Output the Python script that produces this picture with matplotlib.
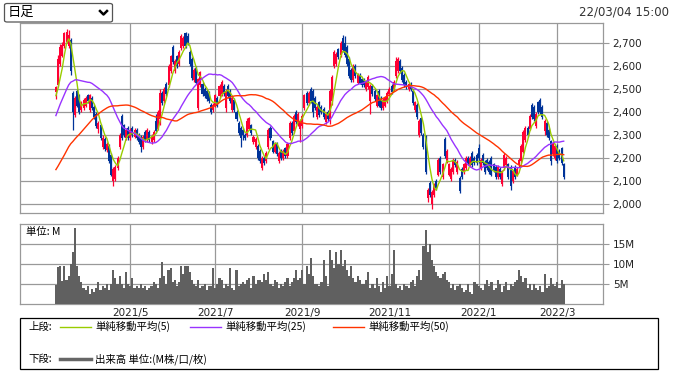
import numpy as np
import pandas as pd
import matplotlib
matplotlib.use('Agg')
import matplotlib.pyplot as plt
from matplotlib.patches import Rectangle, FancyBboxPatch
from matplotlib.lines import Line2D

plt.rcParams['font.family'] = ['DejaVu Sans', 'Noto Sans CJK JP']
JP = ['Noto Sans CJK JP', 'DejaVu Sans']

# trading days (TSE holidays removed)
holidays = ['2021-04-29', '2021-05-03', '2021-05-04', '2021-05-05', '2021-07-22',
            '2021-07-23', '2021-08-09', '2021-09-20', '2021-09-23', '2021-11-03',
            '2021-11-23', '2021-12-31', '2022-01-03', '2022-01-10', '2022-02-11',
            '2022-02-23']
tick_months = [(2021, 5), (2021, 7), (2021, 9), (2021, 11), (2022, 1), (2022, 3)]

# closes before the visible window (only used to seed the 25/50 day averages)
prior_close = [1880, 1870, 1890, 1900, 1880, 1860, 1890, 1910, 1900, 1920,
               1930, 1910, 1900, 1920, 1940, 1930, 1910, 1920, 1930, 1950,
               1940, 1930, 1950, 1960, 1950,
               2000, 2080, 2150, 2190, 2230, 2250, 2270, 2290, 2320, 2430,
               2450, 2480, 2500, 2520, 2510, 2490, 2530, 2550, 2520, 2500,
               2470, 2460, 2470, 2450]

open_ = [2490, 2520, 2610, 2645, 2690, 2705, 2690, 2710, 2480, 2390,
         2490, 2470, 2410, 2420, 2430, 2470, 2410, 2460, 2420, 2390,
         2330, 2340, 2250, 2280, 2235, 2250, 2210, 2100, 2110, 2160,
         2250, 2380, 2340, 2290, 2330, 2290, 2330, 2295, 2320, 2300,
         2290, 2250, 2310, 2280, 2310, 2270, 2280, 2360, 2330, 2370,
         2480, 2450, 2520, 2520, 2580, 2680, 2580, 2640, 2610, 2680,
         2690, 2740, 2730, 2660, 2630, 2540, 2590, 2420, 2520, 2520,
         2500, 2490, 2480, 2430, 2410, 2430, 2460, 2470, 2480, 2510,
         2420, 2510, 2490, 2410, 2450, 2400, 2350, 2330, 2320, 2300,
         2300, 2330, 2340, 2270, 2250, 2250, 2230, 2160, 2200, 2190,
         2250, 2330, 2270, 2230, 2260, 2190, 2230, 2200, 2240, 2210,
         2290, 2350, 2320, 2400, 2350, 2330, 2340, 2420, 2480, 2440,
         2500, 2490, 2460, 2380, 2440, 2420, 2410, 2360, 2400, 2370,
         2450, 2600, 2610, 2670, 2650, 2720, 2700, 2680, 2630, 2580,
         2540, 2600, 2530, 2560, 2540, 2540, 2500, 2510, 2450, 2510,
         2490, 2430, 2490, 2460, 2420, 2430, 2450, 2480, 2510, 2500,
         2560, 2580, 2620, 2590, 2560, 2530, 2500, 2520, 2490, 2410,
         2430, 2300, 2370, 2300, 2290, 2030, 2090, 2000, 2040, 2100,
         2130, 2200, 2120, 2280, 2190, 2130, 2110, 2140, 2190, 2140,
         2110, 2150, 2140, 2160, 2200, 2170, 2220, 2200, 2210, 2240,
         2160, 2210, 2180, 2190, 2180, 2200, 2170, 2160, 2120, 2150,
         2090, 2160, 2170, 2170, 2160, 2100, 2160, 2130, 2170, 2190,
         2230, 2280, 2330, 2330, 2430, 2420, 2340, 2440, 2450, 2420,
         2320, 2350, 2320, 2270, 2220, 2200, 2250, 2230, 2240, 2170]

high = [2515, 2650, 2695, 2705, 2750, 2760, 2755, 2720, 2490, 2470,
        2500, 2480, 2450, 2460, 2470, 2480, 2480, 2470, 2430, 2400,
        2360, 2350, 2300, 2290, 2270, 2260, 2220, 2160, 2170, 2210,
        2310, 2390, 2350, 2330, 2340, 2330, 2340, 2330, 2330, 2310,
        2300, 2300, 2320, 2330, 2320, 2305, 2320, 2390, 2410, 2500,
        2490, 2510, 2530, 2610, 2650, 2690, 2630, 2650, 2670, 2740,
        2730, 2750, 2745, 2670, 2640, 2590, 2600, 2550, 2580, 2530,
        2510, 2500, 2490, 2440, 2440, 2480, 2470, 2520, 2540, 2520,
        2500, 2520, 2500, 2470, 2460, 2410, 2360, 2340, 2330, 2310,
        2375, 2380, 2350, 2300, 2290, 2260, 2240, 2210, 2210, 2230,
        2330, 2340, 2280, 2270, 2270, 2230, 2240, 2240, 2250, 2270,
        2360, 2360, 2390, 2410, 2400, 2370, 2390, 2480, 2490, 2490,
        2510, 2500, 2470, 2430, 2450, 2430, 2420, 2400, 2410, 2500,
        2560, 2670, 2660, 2680, 2710, 2735, 2730, 2690, 2640, 2590,
        2610, 2610, 2570, 2570, 2550, 2550, 2540, 2560, 2520, 2520,
        2500, 2480, 2500, 2470, 2460, 2470, 2490, 2510, 2520, 2540,
        2640, 2640, 2630, 2600, 2570, 2540, 2530, 2530, 2500, 2450,
        2440, 2370, 2380, 2310, 2300, 2070, 2100, 2060, 2090, 2110,
        2200, 2210, 2180, 2290, 2240, 2180, 2160, 2200, 2200, 2190,
        2120, 2160, 2180, 2210, 2210, 2210, 2230, 2210, 2220, 2260,
        2200, 2220, 2190, 2200, 2190, 2210, 2180, 2170, 2170, 2160,
        2150, 2220, 2210, 2180, 2170, 2150, 2170, 2160, 2200, 2260,
        2320, 2340, 2340, 2390, 2440, 2430, 2400, 2450, 2460, 2430,
        2370, 2360, 2330, 2280, 2270, 2260, 2260, 2240, 2250, 2180]

low = [2455, 2510, 2600, 2640, 2680, 2700, 2680, 2560, 2320, 2380,
       2420, 2390, 2400, 2410, 2420, 2440, 2400, 2410, 2370, 2330,
       2310, 2280, 2240, 2230, 2225, 2180, 2120, 2080, 2100, 2150,
       2240, 2280, 2290, 2280, 2280, 2280, 2290, 2285, 2280, 2260,
       2225, 2240, 2270, 2270, 2270, 2260, 2270, 2310, 2320, 2345,
       2430, 2440, 2470, 2510, 2570, 2610, 2570, 2590, 2600, 2670,
       2680, 2680, 2690, 2600, 2540, 2530, 2520, 2410, 2510, 2470,
       2460, 2450, 2440, 2390, 2400, 2420, 2420, 2460, 2470, 2470,
       2400, 2460, 2440, 2400, 2400, 2360, 2300, 2250, 2280, 2280,
       2290, 2320, 2300, 2260, 2240, 2190, 2180, 2150, 2170, 2180,
       2240, 2280, 2220, 2220, 2210, 2180, 2190, 2190, 2200, 2200,
       2280, 2300, 2310, 2350, 2340, 2270, 2330, 2410, 2430, 2430,
       2440, 2380, 2410, 2370, 2380, 2390, 2370, 2350, 2360, 2350,
       2430, 2590, 2600, 2630, 2640, 2660, 2640, 2600, 2550, 2530,
       2530, 2550, 2520, 2520, 2510, 2510, 2490, 2500, 2390, 2470,
       2450, 2420, 2420, 2410, 2410, 2420, 2440, 2470, 2480, 2490,
       2550, 2570, 2570, 2530, 2510, 2500, 2490, 2490, 2430, 2400,
       2370, 2290, 2300, 2240, 2130, 2010, 2030, 1980, 2030, 2060,
       2120, 2130, 2110, 2200, 2180, 2120, 2100, 2130, 2160, 2130,
       2050, 2110, 2130, 2150, 2170, 2160, 2160, 2170, 2170, 2180,
       2150, 2170, 2130, 2150, 2130, 2120, 2140, 2110, 2110, 2110,
       2080, 2150, 2160, 2110, 2060, 2090, 2110, 2120, 2160, 2180,
       2220, 2270, 2290, 2320, 2370, 2360, 2330, 2390, 2390, 2370,
       2300, 2290, 2280, 2170, 2210, 2190, 2180, 2190, 2170, 2110]

close = [2505, 2630, 2680, 2690, 2740, 2745, 2735, 2580, 2400, 2460,
         2430, 2400, 2440, 2450, 2460, 2450, 2470, 2420, 2380, 2340,
         2350, 2290, 2285, 2240, 2260, 2190, 2130, 2150, 2160, 2200,
         2300, 2290, 2300, 2320, 2290, 2320, 2300, 2320, 2290, 2270,
         2250, 2290, 2280, 2320, 2280, 2295, 2310, 2320, 2400, 2480,
         2440, 2500, 2480, 2600, 2640, 2620, 2620, 2600, 2660, 2730,
         2720, 2690, 2700, 2610, 2550, 2580, 2530, 2540, 2570, 2480,
         2470, 2460, 2450, 2400, 2430, 2470, 2430, 2510, 2530, 2480,
         2490, 2470, 2450, 2460, 2410, 2370, 2310, 2290, 2300, 2290,
         2360, 2370, 2310, 2290, 2280, 2200, 2190, 2200, 2180, 2220,
         2320, 2290, 2230, 2260, 2220, 2220, 2200, 2230, 2210, 2260,
         2350, 2310, 2380, 2360, 2390, 2360, 2380, 2470, 2440, 2480,
         2450, 2400, 2420, 2420, 2390, 2400, 2380, 2390, 2370, 2490,
         2550, 2660, 2650, 2640, 2700, 2670, 2650, 2610, 2560, 2540,
         2600, 2560, 2560, 2530, 2520, 2520, 2530, 2550, 2510, 2480,
         2460, 2470, 2430, 2420, 2450, 2460, 2480, 2500, 2490, 2530,
         2620, 2630, 2580, 2540, 2520, 2510, 2520, 2500, 2440, 2440,
         2380, 2360, 2310, 2250, 2140, 2060, 2040, 2050, 2080, 2070,
         2190, 2140, 2170, 2210, 2230, 2170, 2150, 2190, 2170, 2180,
         2060, 2120, 2170, 2200, 2180, 2200, 2170, 2180, 2180, 2200,
         2190, 2180, 2140, 2160, 2140, 2130, 2150, 2120, 2160, 2120,
         2140, 2210, 2200, 2120, 2080, 2140, 2120, 2150, 2190, 2250,
         2310, 2330, 2300, 2380, 2380, 2370, 2390, 2400, 2400, 2380,
         2360, 2300, 2290, 2190, 2260, 2250, 2190, 2200, 2180, 2120]

# volume in millions
volume = [4.7, 9.3, 9.5, 5.8, 9.5, 6.0, 7.0, 10.0, 13.0, 19.0,
          9.5, 7.0, 5.5, 4.0, 3.5, 4.5, 2.5, 3.8, 3.0, 4.0,
          5.5, 3.5, 4.5, 4.0, 5.0, 3.5, 5.0, 8.5, 6.5, 5.0,
          7.0, 5.0, 4.0, 8.0, 5.0, 4.5, 6.5, 4.0, 4.5, 4.0,
          5.0, 4.0, 4.5, 3.5, 4.0, 4.5, 5.5, 5.0, 4.0, 6.5,
          10.5, 7.0, 5.0, 8.5, 9.0, 5.5, 6.0, 4.5, 5.5, 9.5,
          7.5, 9.5, 9.5, 8.0, 6.0, 5.0, 4.5, 6.0, 4.0, 4.5,
          5.0, 3.5, 4.5, 4.5, 9.0, 4.0, 5.0, 6.5, 6.0, 4.0,
          5.0, 4.5, 9.0, 4.0, 3.5, 8.5, 4.5, 5.0, 5.5, 5.0,
          6.0, 6.5, 4.0, 7.0, 5.0, 6.0, 6.0, 5.5, 7.5, 6.0,
          8.0, 5.0, 4.5, 6.0, 5.5, 4.0, 5.0, 4.5, 5.5, 6.5,
          4.5, 5.5, 6.5, 8.5, 6.0, 6.5, 8.5, 5.0, 9.5, 7.5,
          11.5, 7.0, 5.0, 5.0, 4.5, 5.5, 11.0, 7.0, 4.5, 13.5,
          11.0, 9.0, 13.0, 10.0, 13.5, 9.5, 11.0, 8.5, 7.0, 9.5,
          6.5, 5.5, 7.0, 6.0, 5.0, 5.0, 6.0, 8.0, 4.0, 5.0,
          4.0, 6.5, 4.5, 3.0, 5.5, 4.0, 7.0, 4.5, 7.5, 13.5,
          5.0, 4.0, 4.5, 3.5, 5.0, 4.5, 4.0, 5.5, 6.0, 4.5,
          7.0, 8.5, 6.0, 14.5, 18.5, 13.0, 15.0, 11.0, 9.5, 8.0,
          7.0, 6.5, 7.5, 8.0, 6.0, 5.5, 4.0, 5.0, 3.5, 4.5,
          5.0, 4.0, 3.0, 3.5, 5.0, 3.0, 2.5, 5.5, 5.0, 4.5,
          4.0, 3.5, 5.0, 6.0, 4.5, 5.5, 3.5, 4.0, 6.0, 5.0,
          3.0, 4.5, 5.5, 3.5, 5.0, 4.5, 5.5, 6.0, 8.5, 7.0,
          5.5, 6.5, 4.0, 5.0, 3.5, 5.0, 4.0, 3.5, 4.5, 3.0,
          7.5, 4.0, 4.5, 6.5, 5.0, 4.5, 5.5, 4.0, 6.0, 5.0]

dates = pd.bdate_range('2021-03-12', '2022-03-04')
dates = dates[~dates.isin(pd.to_datetime(holidays))]
x = np.arange(len(dates))

ticks, tick_labels = [], []
for y, m in tick_months:
    pos = np.where((dates.year == y) & (dates.month == m))[0][0]
    ticks.append(pos)
    tick_labels.append(f'{y}/{m}')

all_close = pd.Series(prior_close + close)
n_prior = len(prior_close)
ma5 = all_close.rolling(5).mean().values[n_prior:]
ma25 = all_close.rolling(25).mean().values[n_prior:]
ma50 = all_close.rolling(50).mean().values[n_prior:]

o = np.array(open_); c = np.array(close)
up = c >= o
col = np.where(up, '#ff0033', '#003399')

W, H = 675, 373
fig = plt.figure(figsize=(W / 100, H / 100), dpi=100)

def box(l, t, r, b):
    return [l / W, 1 - b / H, (r - l) / W, (b - t) / H]

grid_c = '#999999'
xlim = (-16.9, 257.5)

# price panel
ax1 = fig.add_axes(box(20, 23, 603, 213))
ax1.vlines(x, low, high, colors=col, linewidth=0.9, zorder=2)
ax1.bar(x, np.abs(c - o) + 4, bottom=np.minimum(o, c) - 2, width=0.95,
        color=col, linewidth=0, zorder=3, antialiased=False)
ax1.plot(x, ma5, color='#99cc00', lw=1.0, zorder=4)
ax1.plot(x, ma25, color='#9933ff', lw=1.0, zorder=4)
ax1.plot(x, ma50, color='#ff3300', lw=1.0, zorder=4)
ax1.set_xlim(*xlim)
ax1.set_ylim(1961, 2787)
ax1.set_yticks(range(2000, 2701, 100))
ax1.set_yticklabels([f'{v:,}' for v in range(2000, 2701, 100)])
ax1.set_xticks(ticks)
ax1.set_xticklabels([])
ax1.tick_params(axis='x', length=0)

# volume panel
ax2 = fig.add_axes(box(20, 224, 603, 304))
ax2.bar(x, volume, width=1.0, color='#606060', linewidth=0, zorder=3,
        antialiased=False)
ax2.set_xlim(*xlim)
ax2.set_ylim(0, 20)
ax2.set_yticks([5, 10, 15])
ax2.set_yticklabels(['5M', '10M', '15M'])
ax2.set_xticks(ticks)
ax2.set_xticklabels(tick_labels)
ax2.tick_params(axis='x', length=0, pad=3, labelsize=7.5, colors='#222222')
ax2.text(0.01, 0.9, '単位: M', transform=ax2.transAxes, fontsize=7.5,
         family=JP, va='center', ha='left')

for ax in (ax1, ax2):
    ax.yaxis.tick_right()
    ax.tick_params(axis='y', length=4, width=0.8, color=grid_c, pad=3,
                   labelsize=7.5, labelcolor='#222222')
    ax.grid(True, color=grid_c, linewidth=0.9, zorder=0)
    ax.set_axisbelow(True)
    for s in ax.spines.values():
        s.set_color(grid_c)
        s.set_linewidth(0.9)

# legend box
fig.patches.append(Rectangle((20 / W, 1 - 369 / H), 638 / W, 51 / H,
                             transform=fig.transFigure, fill=False,
                             edgecolor='black', linewidth=0.9))

def fx(px):
    return px / W

def fy(py):
    return 1 - py / H

fig.text(fx(28), fy(326.5), '上段:', family=JP, fontsize=7.5, va='center')
items = [(60, '#99cc00', '単純移動平均(5)'),
         (190, '#9933ff', '単純移動平均(25)'),
         (333, '#ff3300', '単純移動平均(50)')]
for lx, lc, lt in items:
    fig.lines.append(Line2D([fx(lx), fx(lx + 31)], [fy(326.5), fy(326.5)],
                            transform=fig.transFigure, color=lc, lw=1.0))
    fig.text(fx(lx + 35), fy(326.5), lt, family=JP, fontsize=7.5, va='center')

fig.text(fx(28), fy(359), '下段:', family=JP, fontsize=7.5, va='center')
fig.lines.append(Line2D([fx(60), fx(91)], [fy(359), fy(359)],
                        transform=fig.transFigure, color='#666666', lw=2.5))
fig.text(fx(95), fy(359), '出来高 単位:(M株/口/枚)', family=JP, fontsize=7.5,
         va='center')

# dropdown and timestamp
fig.patches.append(FancyBboxPatch((fx(4.5), fy(22)), 108 / W, 18.5 / H,
                                  boxstyle='round,pad=0,rounding_size=0.004',
                                  transform=fig.transFigure, facecolor='white',
                                  edgecolor='#555555', linewidth=0.9))
fig.text(fx(8), fy(12.5), '日足', family=JP, fontsize=9.5, va='center')
fig.lines.append(Line2D([fx(100), fx(103.5), fx(107)], [fy(11), fy(14.5), fy(11)],
                        transform=fig.transFigure, color='black', lw=1.8))
fig.text(fx(669), fy(12), '22/03/04 15:00', fontsize=8.5, color='#333333',
         ha='right', va='center')

fig.savefig('out.png', dpi=100)
